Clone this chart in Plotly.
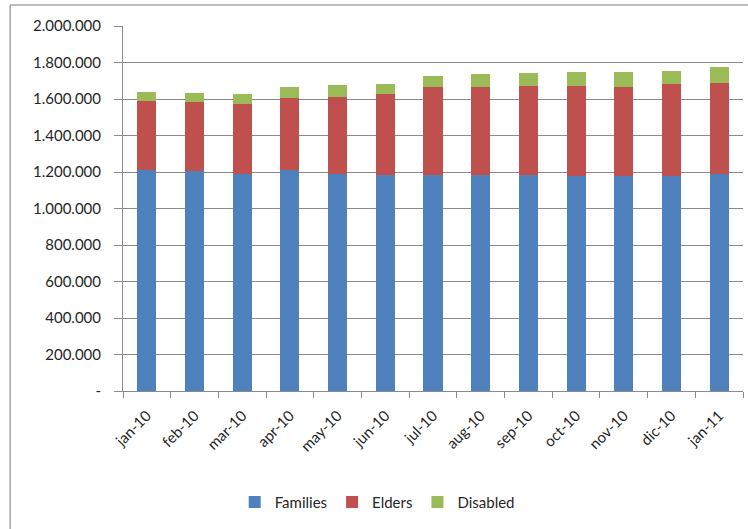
import plotly.graph_objects as go

months = ["jan-10", "feb-10", "mar-10", "apr-10", "may-10", "jun-10", "jul-10",
          "aug-10", "sep-10", "oct-10", "nov-10", "dic-10", "jan-11"]
families = [1213000, 1205000, 1191000, 1211000, 1191000, 1184000, 1183000,
            1184000, 1184000, 1180000, 1176000, 1180000, 1189000]
elders = [376000, 377000, 380000, 394500, 421700, 443000, 481000,
          480000, 489000, 493000, 488000, 500000, 500000]
disabled = [51000, 52500, 56000, 60000, 62000, 55000, 63000,
            70500, 69000, 76000, 85000, 76000, 84000]

y_ticks = list(range(0, 2000001, 200000))
y_labels = ["-" if v == 0 else f"{v:,}".replace(",", ".") for v in y_ticks]

FONT = "Lato, 'Open Sans', sans-serif"
GRID = "#8a8a8a"

fig = go.Figure()
for name, vals, color in [("Families", families, "#4F81BD"),
                          ("Elders", elders, "#C0504D"),
                          ("Disabled", disabled, "#9BBB59")]:
    fig.add_trace(go.Bar(x=months, y=vals, name=name, marker_color=color,
                         marker_line_width=0))

fig.update_layout(
    width=748, height=529,
    barmode="stack", bargap=0.6,
    plot_bgcolor="white", paper_bgcolor="white",
    margin=dict(l=123, r=5, t=26, b=138),
    font=dict(family=FONT, size=15, color="#262626"),
    showlegend=True,
    legend=dict(orientation="h", x=0.41, xanchor="center", y=-0.305, yanchor="middle",
                font=dict(size=15), itemwidth=30, traceorder="normal"),
    xaxis=dict(type="category", tickangle=-45, showgrid=False,
               showline=True, linecolor=GRID, linewidth=1,
               ticks="outside", ticklen=6, tickcolor=GRID, tickson="boundaries",
               tickfont=dict(size=15), ticklabelstandoff=9),
    yaxis=dict(range=[0, 2000000], tickvals=y_ticks, ticktext=y_labels,
               showgrid=True, gridcolor=GRID, gridwidth=1,
               showline=True, linecolor=GRID, linewidth=1,
               ticks="outside", ticklen=8, tickcolor=GRID,
               tickfont=dict(size=15), ticklabelstandoff=10, zeroline=False),
    shapes=[
        dict(type="line", xref="paper", yref="paper",
             x0=-0.182, x1=1.1, y0=1.0575, y1=1.0575,
             line=dict(color="#a6a6a6", width=1.5)),
        dict(type="line", xref="paper", yref="paper",
             x0=-0.182, x1=-0.182, y0=1.0575, y1=-0.5,
             line=dict(color="#a6a6a6", width=1.5)),
    ],
)

fig.write_html("out.html")
